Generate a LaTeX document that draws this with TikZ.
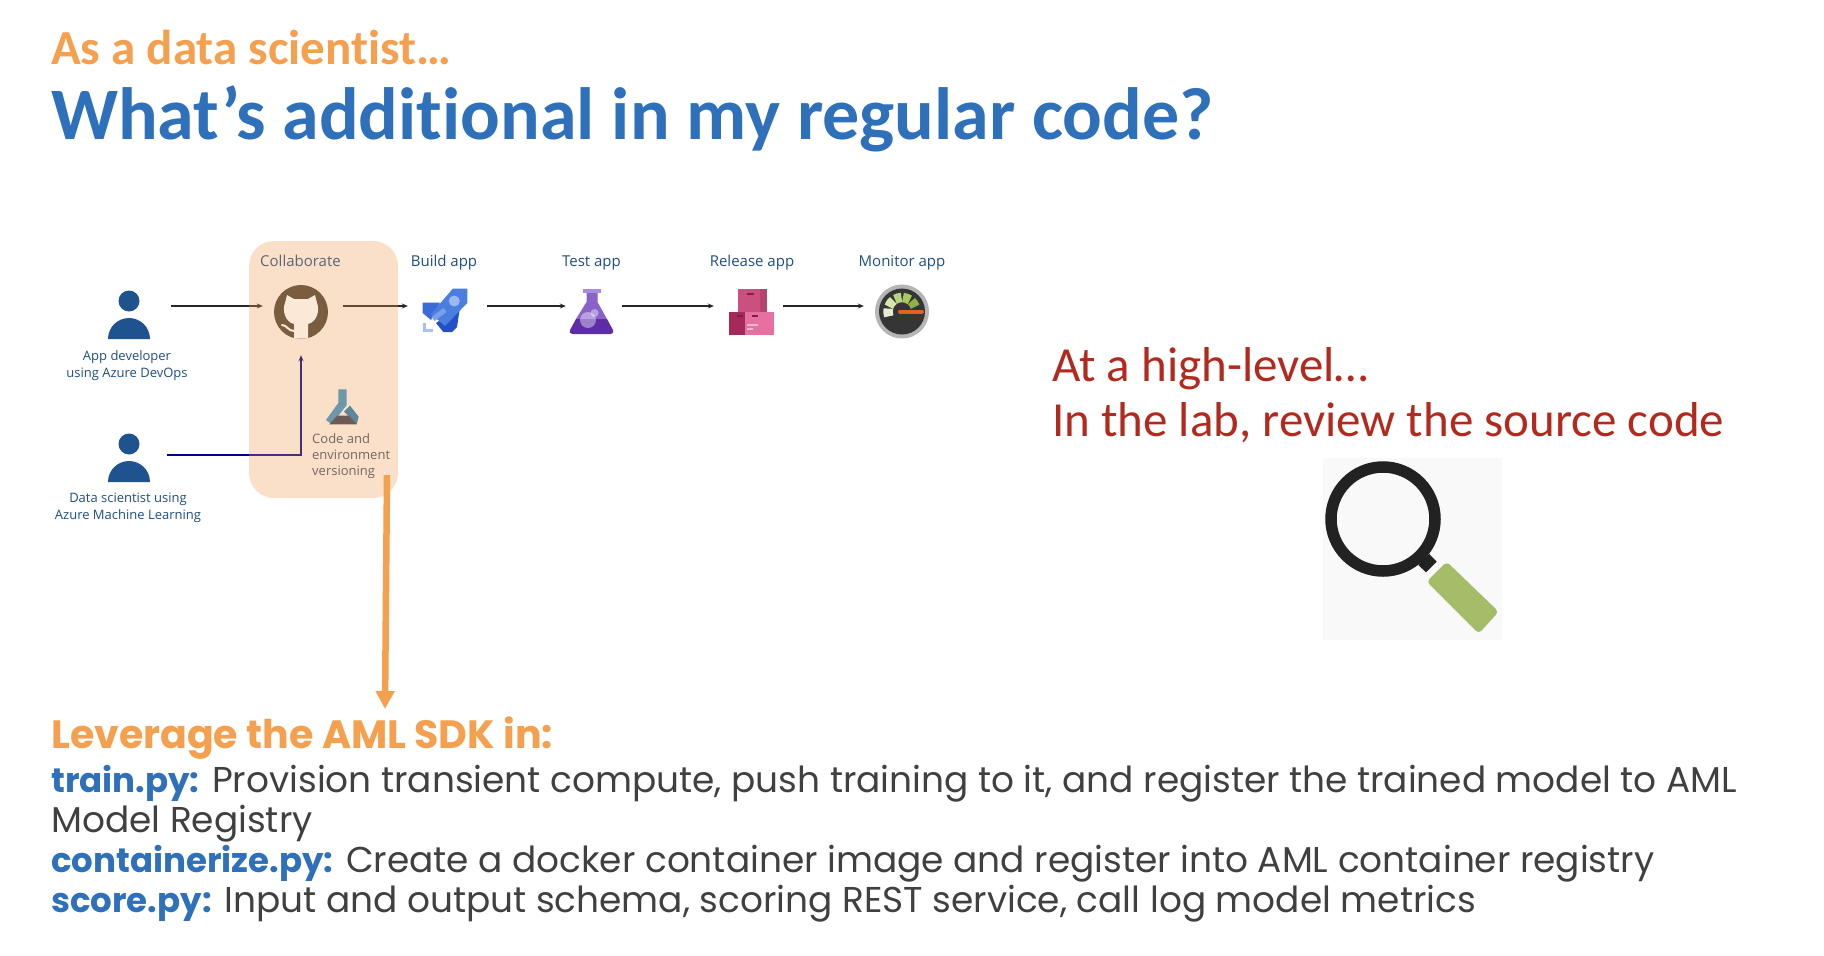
\documentclass[tikz,border=0pt]{standalone}
\usepackage{fontspec}
\setmainfont[RawFeature={-liga;-clig;-dlig}]{Carlito}
\newfontfamily\bodyfont{Poppins}
\newfontfamily\smallfont{Open Sans}
\usetikzlibrary{arrows.meta,calc}
\definecolor{titleblue}{HTML}{2F70BA}
\definecolor{headorange}{HTML}{F4A04F}
\definecolor{redtext}{HTML}{B22A1E}
\definecolor{bodygrey}{HTML}{404040}
\definecolor{personblue}{HTML}{1F538F}
\definecolor{labelblue}{HTML}{1F4E85}
\definecolor{codegrey}{HTML}{3F5068}
\definecolor{panelorange}{HTML}{F09A4E}
\definecolor{navyline}{HTML}{00008B}
\definecolor{ghbrown}{HTML}{7A5C3E}
\definecolor{ghface}{HTML}{FBE9D8}
\definecolor{rockettop}{HTML}{4A7FE0}
\definecolor{rocketmid}{HTML}{3B6BD8}
\definecolor{rocketlow}{HTML}{2250C8}
\definecolor{rocketwin}{HTML}{9DB8F0}
\definecolor{rocketbar}{HTML}{7AA0EA}
\definecolor{rocketl}{HTML}{A8C0F5}
\definecolor{flasktop}{HTML}{8A63C9}
\definecolor{flaskrim}{HTML}{A98CDD}
\definecolor{flasklow}{HTML}{5E2CA5}
\definecolor{boxupper}{HTML}{C9507F}
\definecolor{boxupperd}{HTML}{B5446F}
\definecolor{boxleft}{HTML}{A52A5A}
\definecolor{boxright}{HTML}{E670A0}
\definecolor{tape}{HTML}{7E1F45}
\definecolor{gaugering}{HTML}{B5B5B5}
\definecolor{gaugedark}{HTML}{353535}
\definecolor{needle}{HTML}{DE6420}
\definecolor{gone}{HTML}{E4EDD3}
\definecolor{gtwo}{HTML}{D6E6AE}
\definecolor{gthree}{HTML}{B8D382}
\definecolor{gfour}{HTML}{A9C864}
\definecolor{gfive}{HTML}{8DB143}
\definecolor{amlarm}{HTML}{6D97AB}
\definecolor{amlright}{HTML}{5F8699}
\definecolor{amlbase}{HTML}{6B5A55}
\definecolor{lensbg}{HTML}{F9F9F9}
\definecolor{lensring}{HTML}{222222}
\definecolor{lensgreen}{HTML}{A5BC68}
\tikzset{
  lefttext/.style={anchor=base west,inner sep=0pt,align=left},
  small/.style={inner sep=0pt,text=labelblue,font=\smallfont\fontsize{13}{17}\selectfont,align=center},
  steplabel/.style={inner sep=0pt,anchor=base,text=labelblue,font=\smallfont\fontsize{15}{17}\selectfont},
  iconbox/.style={inner sep=0pt,minimum width=#1,minimum height=#1},
  flow/.style={draw=black!85,line width=1.1pt,-{Stealth[length=6pt,width=5pt]}},
  bodyline/.style={lefttext,text=bodygrey,font=\bodyfont\fontsize{35.9}{38}\selectfont},
}
\newcommand{\person}[2]{%
  \fill[personblue] (#1,#2) circle[radius=10.5];
  \fill[personblue] (#1-21,#2+38) arc[start angle=180,end angle=360,x radius=21,y radius=21] -- cycle;
}
\newcommand{\bl}[1]{\textcolor{titleblue}{\bfseries\fontsize{34}{38}\selectfont #1}}
\newcommand{\gseg}[3]{\draw[#3,line width=9.5pt] (902,311.5)++(-#1:14) arc[start angle=-#1,end angle=-#2,radius=14];}
\begin{document}
\begin{tikzpicture}[x=1pt,y=-1pt]
\useasboundingbox (0,0) rectangle (1824,956);
\fill[white] (0,0) rectangle (1824,956);

% titles
\node[lefttext,text=headorange,font=\fontsize{49}{50}\selectfont\bfseries] (kicker) at (51,64) {As a data scientist…};
\node[lefttext,text=titleblue,font=\fontsize{74}{76}\selectfont\bfseries] (title) at (51,139) {What’s additional in my regular code?};

% people
\node[iconbox=42] (dev) at (129,316) {};
\person{129}{301}
\node[small] (devlabel) at (127,366) {App developer\\using Azure DevOps};
\node[iconbox=42] (sci) at (129,459) {};
\person{129}{444}
\node[small] (scilabel) at (128,508) {Data scientist using\\Azure Machine Learning};

% icon anchors
\node[iconbox=54,circle] (gh) at (301,312) {};
\node[iconbox=46] (rocket) at (444.5,312) {};
\node[iconbox=44] (flask) at (591.5,312) {};
\node[iconbox=46] (boxes) at (751.5,312) {};
\node[iconbox=54,circle] (gauge) at (902,312) {};

% step labels
\node[steplabel] (lcol) at (300.5,266) {Collaborate};
\node[steplabel] (lbuild) at (444,266) {Build app};
\node[steplabel] (ltest) at (591.5,266) {Test app};
\node[steplabel] (lrel) at (752,266) {Release app};
\node[steplabel] (lmon) at (902,266) {Monitor app};
\node[small,align=left,anchor=west,text=codegrey,font=\smallfont\fontsize{13}{16}\selectfont] (lcode) at (312,456.5) {Code and\\environment\\versioning};

% connectors
\draw[flow] ([xshift=21pt,yshift=10pt]dev.east) -- ([xshift=-11pt,yshift=6pt]gh.west);
\draw[flow] ([xshift=15pt,yshift=6pt]gh.east) -- ([xshift=-13.5pt,yshift=6pt]rocket.west);
\draw[flow] ([xshift=19.5pt,yshift=6pt]rocket.east) -- ([xshift=-3.5pt,yshift=6pt]flask.west);
\draw[flow] ([xshift=8.5pt,yshift=6pt]flask.east) -- ([xshift=-14.5pt,yshift=6pt]boxes.west);
\draw[flow] ([xshift=8.5pt,yshift=6pt]boxes.east) -- ([xshift=-11pt,yshift=6pt]gauge.west);
\draw[draw=navyline,line width=1.2pt,-{Stealth[length=6pt,width=5pt]}] ([xshift=17pt,yshift=4pt]sci.east) -| ([yshift=-16pt]gh.south);

% collaborate panel
\node[rectangle,rounded corners=25pt,fill=panelorange,fill opacity=.3,minimum width=149,minimum height=257,inner sep=0pt] (collab) at (323.5,369.5) {};

% github icon
\fill[ghbrown] (301,312) circle[radius=27];
\begin{scope}[shift={(301,312)}]
  \fill[ghface] (-14,-17) -- (-7,-13) -- (7,-13) -- (14,-17) -- (16,-9)
    .. controls (19,-2) and (16,10) .. (7,12) -- (7,26.5) -- (-7,26.5) -- (-7,12)
    .. controls (-16,10) and (-19,-2) .. (-16,-9) -- cycle;
  \draw[ghface,line width=2pt,line cap=round] (-7,19) .. controls (-13,19) and (-14,13) .. (-19,13);
\end{scope}

% azure ml icon
\fill[amlarm] (338.3,389.3) -- (346.7,389.3) -- (346.7,405) -- (331.7,424.3) -- (326,420) -- (338.3,403) -- cycle;
\fill[amlright] (350,405.7) -- (358.7,416.7) -- (356.7,424.3) -- (344,411.7) -- cycle;
\fill[amlbase] (337.3,415.7) -- (349,415.7) -- (356.7,424.3) -- (329.3,424.3) -- cycle;

% rocket icon
\fill[rocketmid] (422.7,302.7) -- (440,302.7) -- (431,320) -- (422.7,313) -- cycle;
\fill[rocketlow] (460,307) -- (457,327) -- (452,332) -- (443.3,332) -- (436,323) -- cycle;
\fill[rockettop] (453,288.5) -- (467.3,288.5) -- (467.3,303) -- (445,326) -- (431,314) -- cycle;
\fill[rocketwin] (454.3,301) circle[radius=5.5];
\draw[rocketbar,line width=5pt] (433,319) -- (445,310);
\draw[rocketl,line width=3pt] (424,322.7) -- (424,330.5) -- (432.7,330.5);

% flask icon
\fill[flasktop] (586.5,292) -- (597.5,292) -- (597.5,302) -- (607,319) -- (576,319) -- (586.5,302) -- cycle;
\fill[flaskrim] (583,289) rectangle (601,293);
\fill[flasklow] (576,319) -- (607,319) -- (613,330) .. controls (614,333) and (612,334) .. (610,334)
  -- (573,334) .. controls (571,334) and (569,333) .. (570,330) -- cycle;
\fill[white,fill opacity=.4] (588,320) circle[radius=8];
\fill[white,fill opacity=.4] (594.6,313) circle[radius=4];

% boxes icon
\fill[boxupper] (737.5,289) rectangle (767,312);
\fill[boxupperd] (760,289) rectangle (767,312);
\fill[tape] (747,293) rectangle (754,295);
\fill[boxleft] (729,312) rectangle (745,335);
\fill[boxright] (745,312) rectangle (774,335);
\fill[tape] (737,315) rectangle (743,317);
\fill[tape] (752,315) rectangle (758,317);
\fill[white,fill opacity=.5] (747,324) rectangle (758,325.5);
\fill[white,fill opacity=.5] (747,328) rectangle (753,329.5);

% gauge icon
\fill[gaugering] (902,311.5) circle[radius=27];
\fill[gaugedark] (902,311.5) circle[radius=23];
\gseg{200}{168}{gone}
\gseg{160}{128}{gtwo}
\gseg{120}{92}{gthree}
\gseg{86}{56}{gfour}
\gseg{48}{20}{gfive}
\draw[needle,line width=4pt,line cap=round] (900,311.5) -- (922,311.5);

% red text
\node[lefttext,text=redtext,font=\fontsize{49}{50}\selectfont] (high) at (1052,381) {At a high-level…};
\node[lefttext,text=redtext,font=\fontsize{49}{50}\selectfont] (lab) at (1052,436) {In the lab, review the source code};

% magnifier
\fill[lensbg] (1323,458) rectangle (1502,640);
\draw[lensring,line width=11.5pt] (1383,519) circle[radius=52];
\fill[lensring] (1429.3,554) -- (1436.7,561.7) -- (1426,572.3) -- (1418.3,565) -- cycle;
\fill[lensgreen,rounded corners=4pt] (1446.7,561.7) -- (1498.7,611.7) -- (1478.7,633.7) -- (1426.7,581.7) -- cycle;

% bottom text
\node[lefttext,text=headorange,font=\bodyfont\bfseries\fontsize{39.5}{40}\selectfont] (lev) at (51,748) {Leverage the AML SDK in:};
\coordinate (levtip) at (385,709);
\draw[headorange,line width=6.5pt,-{Triangle[length=18pt,width=18pt]}] ([xshift=63.5pt,yshift=23pt]collab.south) -- (levtip);
\node[bodyline] (l1) at (51,792) {\bl{train.py:} Provision transient compute, push training to it, and register the trained model to AML};
\node[bodyline] (l2) at (51,832) {Model Registry};
\node[bodyline] (l3) at (51,872) {\bl{containerize.py:} Create a docker container image and register into AML container registry};
\node[bodyline] (l4) at (51,912) {\bl{score.py:} Input and output schema, scoring REST service, call log model metrics};
\end{tikzpicture}
\end{document}
